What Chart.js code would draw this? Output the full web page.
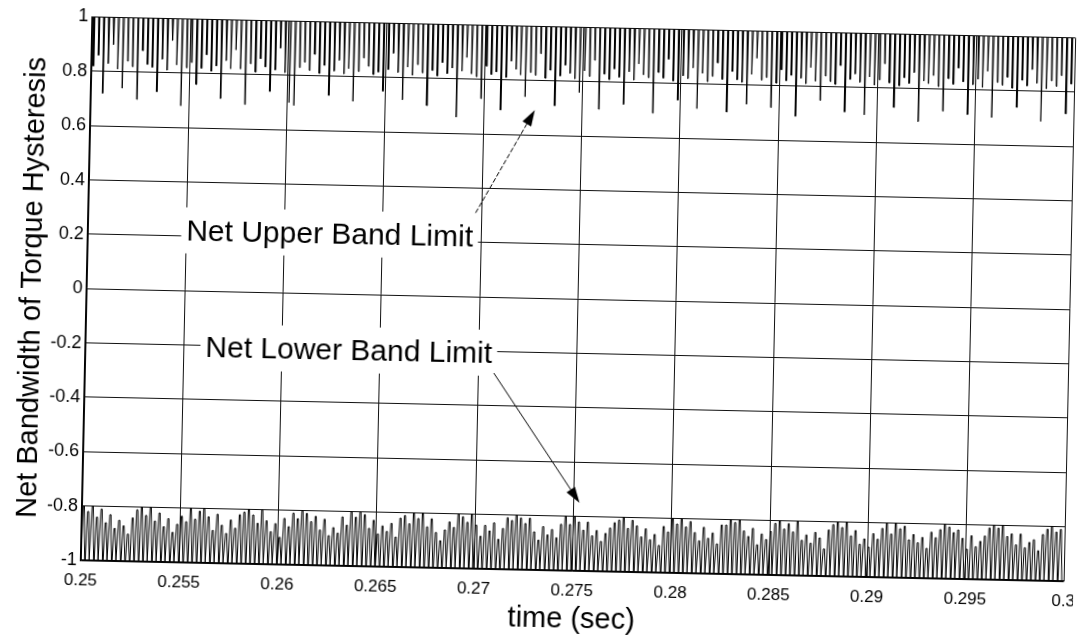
<!DOCTYPE html>
<html>
<head>
<meta charset="utf-8">
<script src="https://cdn.jsdelivr.net/npm/chart.js@4.4.1/dist/chart.umd.min.js"></script>
<style>
  html, body { margin: 0; padding: 0; background: #fff; overflow: hidden; }
  /* the scanned figure is slightly tilted */
  #wrap { width: 1079px; height: 644px; transform: rotate(1.22deg); transform-origin: 539.5px 322px; }
</style>
</head>
<body>
<div id="wrap"><canvas id="chart" width="1079" height="644"></canvas></div>
<script>
// Axis ticks
const xTicks = [0.25, 0.255, 0.26, 0.265, 0.27, 0.275, 0.28, 0.285, 0.29, 0.295, 0.3];
const xTickLabels = ['0.25', '0.255', '0.26', '0.265', '0.27', '0.275', '0.28', '0.285', '0.29', '0.295', '0.3'];
const yTicks = [1, 0.8, 0.6, 0.4, 0.2, 0, -0.2, -0.4, -0.6, -0.8, -1];
const yTickLabels = ['1', '0.8', '0.6', '0.4', '0.2', '0', '-0.2', '-0.4', '-0.6', '-0.8', '-1'];

// Upper band: signal sits at 1 and dips down at each switching instant
const upperLevel = 1;
const upperStart = 0.2501;
const upperStep = 0.00025;
const upperDips = [
  0.82, 0.86, 0.72, 0.83, 0.90, 0.81, 0.74, 0.84, 0.82, 0.70,
  0.88, 0.83, 0.82, 0.73, 0.85, 0.81, 0.92, 0.83, 0.68, 0.82,
  0.84, 0.76, 0.82, 0.87, 0.81, 0.83, 0.71, 0.85, 0.82, 0.89,
  0.82, 0.69, 0.84, 0.81, 0.86, 0.83, 0.74, 0.82, 0.90, 0.81,
  0.70, 0.69, 0.83, 0.85, 0.82, 0.88, 0.81, 0.84, 0.73, 0.82,
  0.86, 0.81, 0.83, 0.71, 0.82, 0.87, 0.84, 0.81, 0.82, 0.75,
  0.83, 0.89, 0.82, 0.72, 0.84, 0.81, 0.85, 0.82, 0.70, 0.83,
  0.81, 0.86, 0.82, 0.84, 0.66, 0.83, 0.88, 0.82, 0.81, 0.73,
  0.85, 0.82, 0.83, 0.69, 0.81, 0.87, 0.84, 0.82, 0.74, 0.83,
  0.82, 0.90, 0.81, 0.84, 0.71, 0.82, 0.86, 0.83, 0.81, 0.76,
  0.84, 0.82, 0.88, 0.70, 0.83, 0.81, 0.85, 0.82, 0.72, 0.84,
  0.81, 0.87, 0.83, 0.82, 0.69, 0.84, 0.82, 0.89, 0.81, 0.74,
  0.83, 0.82, 0.86, 0.71, 0.84, 0.81, 0.83, 0.88, 0.82, 0.70,
  0.85, 0.82, 0.81, 0.73, 0.84, 0.90, 0.82, 0.83, 0.72, 0.81,
  0.86, 0.82, 0.84, 0.69, 0.83, 0.81, 0.87, 0.82, 0.75, 0.84,
  0.82, 0.81, 0.88, 0.71, 0.83, 0.85, 0.82, 0.70, 0.84, 0.81,
  0.83, 0.89, 0.82, 0.73, 0.81, 0.84, 0.82, 0.86, 0.68, 0.83,
  0.82, 0.85, 0.81, 0.72, 0.84, 0.82, 0.88, 0.83, 0.71, 0.82,
  0.84, 0.81, 0.87, 0.70, 0.83, 0.82, 0.85, 0.81, 0.74, 0.84,
  0.82, 0.88, 0.83, 0.69, 0.81, 0.84, 0.82, 0.86, 0.72, 0.83
];

// Lower band: signal sits at -1 and pulses up to these tops each cycle
const lowerLevel = -1;
const lowerStart = 0.25;
const lowerStep = 0.000227;
const lowerTops = [
  -0.80, -0.82, -0.80, -0.84, -0.81, -0.86, -0.83, -0.88, -0.85, -0.87, -0.90, -0.84,
  -0.81, -0.80, -0.83, -0.80, -0.85, -0.82, -0.87, -0.84, -0.89, -0.86, -0.83, -0.85,
  -0.80, -0.84, -0.81, -0.80, -0.83, -0.88, -0.82, -0.86, -0.89, -0.84, -0.87, -0.82,
  -0.81, -0.80, -0.82, -0.85, -0.80, -0.84, -0.88, -0.85, -0.90, -0.83, -0.86, -0.81,
  -0.83, -0.80, -0.81, -0.84, -0.82, -0.87, -0.83, -0.89, -0.86, -0.88, -0.82, -0.85,
  -0.80, -0.82, -0.80, -0.81, -0.86, -0.83, -0.88, -0.85, -0.87, -0.84, -0.89, -0.82,
  -0.81, -0.84, -0.80, -0.82, -0.80, -0.85, -0.82, -0.87, -0.90, -0.86, -0.83, -0.85,
  -0.80, -0.81, -0.83, -0.80, -0.84, -0.88, -0.84, -0.86, -0.83, -0.89, -0.85, -0.81,
  -0.82, -0.80, -0.81, -0.83, -0.81, -0.86, -0.89, -0.84, -0.87, -0.85, -0.88, -0.83,
  -0.80, -0.83, -0.80, -0.82, -0.85, -0.82, -0.87, -0.85, -0.89, -0.86, -0.84, -0.82,
  -0.81, -0.80, -0.84, -0.81, -0.83, -0.87, -0.84, -0.88, -0.86, -0.90, -0.83, -0.85,
  -0.80, -0.82, -0.80, -0.83, -0.81, -0.85, -0.88, -0.83, -0.87, -0.85, -0.89, -0.82,
  -0.82, -0.80, -0.81, -0.80, -0.84, -0.86, -0.83, -0.89, -0.85, -0.87, -0.84, -0.81,
  -0.80, -0.83, -0.81, -0.84, -0.80, -0.87, -0.85, -0.88, -0.84, -0.86, -0.90, -0.83,
  -0.81, -0.80, -0.82, -0.80, -0.85, -0.83, -0.88, -0.86, -0.89, -0.84, -0.86, -0.82,
  -0.80, -0.84, -0.80, -0.82, -0.81, -0.86, -0.84, -0.87, -0.85, -0.89, -0.83, -0.85,
  -0.82, -0.80, -0.81, -0.83, -0.82, -0.85, -0.89, -0.84, -0.88, -0.86, -0.84, -0.81,
  -0.80, -0.81, -0.80, -0.84, -0.83, -0.87, -0.83, -0.88, -0.86, -0.85, -0.89, -0.83,
  -0.81, -0.80, -0.82, -0.81
];

// Callout texts and where they sit / point to (data units)
const callouts = [
  { text: 'Net Upper Band Limit', at: [0.2623, 0.222], from: [0.2697, 0.309], to: [0.2726, 0.692], dashed: true },
  { text: 'Net Lower Band Limit', at: [0.2634, -0.205], from: [0.2708, -0.279], to: [0.2753, -0.750], dashed: false }
];

// Build line points from the band data
const upperPoints = [];
upperDips.forEach((d, i) => {
  const t = upperStart + i * upperStep;
  upperPoints.push({ x: t - 0.00003, y: upperLevel });
  upperPoints.push({ x: t - 0.00001, y: d });
  upperPoints.push({ x: t + 0.00001, y: d });
  upperPoints.push({ x: t + 0.00003, y: upperLevel });
});
const lowerPoints = [];
lowerTops.forEach((top, i) => {
  const t = lowerStart + i * lowerStep;
  lowerPoints.push({ x: t, y: lowerLevel });
  lowerPoints.push({ x: t + lowerStep * 0.3, y: top });
  lowerPoints.push({ x: t + lowerStep * 0.55, y: top });
  lowerPoints.push({ x: t + lowerStep * 0.85, y: lowerLevel });
});

const FONT = '"Liberation Sans", Arial, sans-serif';

const calloutPlugin = {
  id: 'callouts',
  afterDatasetsDraw(chart) {
    const { ctx, scales: { x, y } } = chart;
    ctx.save();
    ctx.font = '30px ' + FONT;
    callouts.forEach(c => {
      const px = x.getPixelForValue(c.at[0]);
      const py = y.getPixelForValue(c.at[1]);
      const w = ctx.measureText(c.text).width;
      ctx.fillStyle = '#fff';
      ctx.fillRect(px - w / 2 - 5, py - 23, w + 10, 46);
      ctx.fillStyle = '#000';
      ctx.textAlign = 'center';
      ctx.textBaseline = 'middle';
      ctx.fillText(c.text, px, py + 2);

      // arrow
      const x0 = x.getPixelForValue(c.from[0]), y0 = y.getPixelForValue(c.from[1]);
      const x1 = x.getPixelForValue(c.to[0]), y1 = y.getPixelForValue(c.to[1]);
      const a = Math.atan2(y1 - y0, x1 - x0);
      const hl = 16, hw = 5;
      ctx.strokeStyle = '#000';
      ctx.lineWidth = 1;
      ctx.setLineDash(c.dashed ? [5, 2] : []);
      ctx.beginPath();
      ctx.moveTo(x0, y0);
      ctx.lineTo(x1 - Math.cos(a) * hl, y1 - Math.sin(a) * hl);
      ctx.stroke();
      ctx.setLineDash([]);
      ctx.beginPath();
      ctx.moveTo(x1, y1);
      ctx.lineTo(x1 - Math.cos(a) * hl - Math.sin(a) * hw, y1 - Math.sin(a) * hl + Math.cos(a) * hw);
      ctx.lineTo(x1 - Math.cos(a) * hl + Math.sin(a) * hw, y1 - Math.sin(a) * hl - Math.cos(a) * hw);
      ctx.closePath();
      ctx.fill();
    });
    ctx.restore();
  }
};

const ctx = document.getElementById('chart').getContext('2d');
new Chart(ctx, {
  type: 'line',
  data: {
    datasets: [
      { label: 'Upper', data: upperPoints, borderColor: '#000', borderWidth: 1, pointRadius: 0, tension: 0, fill: false },
      { label: 'Lower', data: lowerPoints, borderColor: '#000', borderWidth: 1, pointRadius: 0, tension: 0, fill: false }
    ]
  },
  options: {
    responsive: false,
    animation: false,
    layout: { padding: { left: 0, right: 10, top: 26.5, bottom: 0 } },
    plugins: { legend: { display: false }, tooltip: { enabled: false } },
    scales: {
      x: {
        type: 'linear',
        min: 0.25,
        max: 0.3,
        afterBuildTicks: s => { s.ticks = xTicks.map(v => ({ value: v })); },
        afterFit: s => { s.height = 74; s.paddingLeft = 0; s.paddingRight = 0; },
        grid: { color: '#111', lineWidth: 1, drawTicks: false },
        border: { color: '#000', width: 1.3 },
        ticks: {
          autoSkip: false,
          maxRotation: 0,
          padding: 10,
          color: '#000',
          font: { family: FONT, size: 17 },
          callback: (v, i) => xTickLabels[i]
        },
        title: {
          display: true,
          text: 'time (sec)',
          color: '#000',
          font: { family: FONT, size: 29 },
          padding: { top: 0, bottom: 8 }
        }
      },
      y: {
        min: -1,
        max: 1,
        afterBuildTicks: s => { s.ticks = yTicks.map(v => ({ value: v })); },
        afterFit: s => { s.width = 86; s.paddingTop = 0; s.paddingBottom = 0; },
        grid: { color: '#111', lineWidth: 1, drawTicks: false },
        border: { color: '#000', width: 1.3 },
        ticks: {
          padding: 4,
          color: '#000',
          font: { family: FONT, size: 18 },
          callback: (v, i) => yTickLabels[i]
        },
        title: {
          display: true,
          text: 'Net Bandwidth of Torque Hysteresis',
          color: '#000',
          font: { family: FONT, size: 29 },
          padding: { top: 15, bottom: 0 }
        }
      }
    }
  },
  plugins: [calloutPlugin]
});
</script>
</body>
</html>
